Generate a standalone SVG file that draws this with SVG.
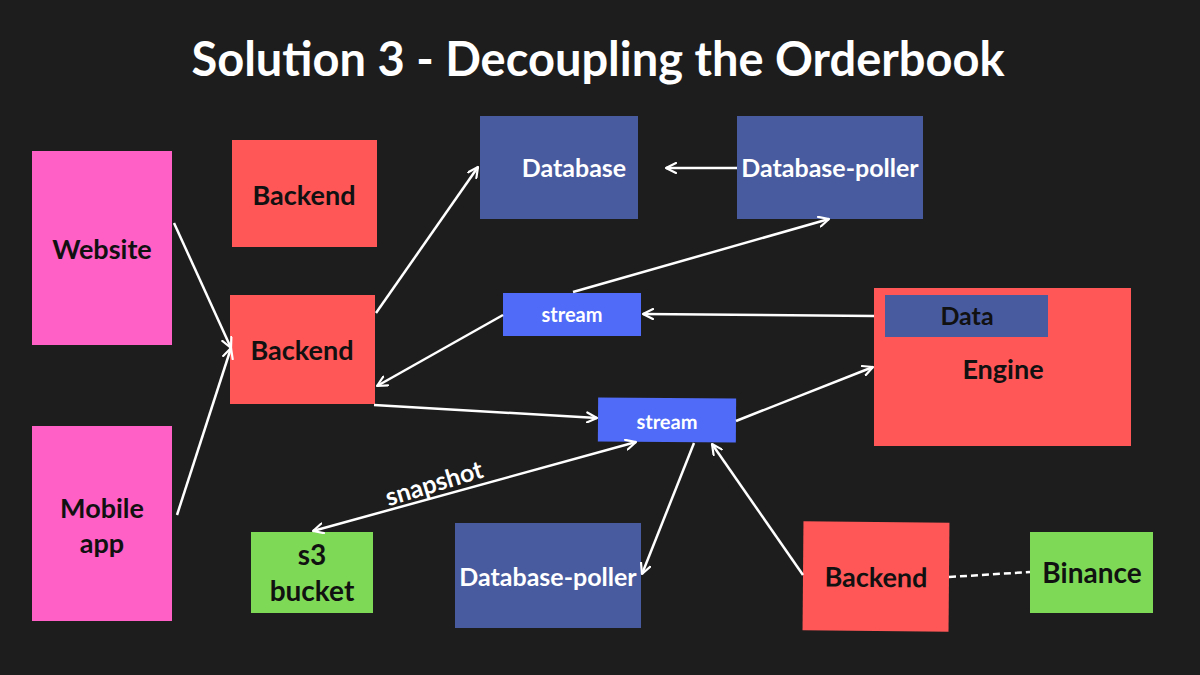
<svg xmlns="http://www.w3.org/2000/svg" width="1200" height="675" viewBox="0 0 1200 675">
<defs>
<style>
text{font-family:Lato,"Open Sans","Liberation Sans",sans-serif;font-weight:700;text-anchor:middle;}
.dk{fill:#111111;font-size:27px;}
.lt{fill:#ffffff;font-size:25px;}
.sm{fill:#ffffff;font-size:20px;}
.pink{fill:#ff60c5;}
.red{fill:#ff5757;}
.navy{fill:#485b9e;}
.blue{fill:#4f6bf8;}
.green{fill:#7ed957;}
.conn{stroke:#ffffff;stroke-width:2.5;fill:none;}
.dash{stroke:#ffffff;stroke-width:2.5;fill:none;stroke-dasharray:7 4;}
</style>
<marker id="ah" viewBox="0 0 12 12" refX="11" refY="6" markerWidth="12" markerHeight="12" markerUnits="userSpaceOnUse" orient="auto-start-reverse">
<path d="M1,1 L11,6 L1,11" fill="none" stroke="#ffffff" stroke-width="2.2" stroke-linecap="round" stroke-linejoin="round"/>
</marker>
</defs>
<rect width="1200" height="675" fill="#1d1d1d"/>
<text x="598" y="76" fill="#ffffff" style="font-size:47px">Solution 3 - Decoupling the Orderbook</text>

<g id="website"><rect class="pink" x="32" y="151" width="140" height="194"/><text class="dk" x="102" y="259">Website</text></g>
<g id="mobile-app"><rect class="pink" x="32" y="426" width="140" height="195"/><text class="dk" x="102" y="518">Mobile</text><text class="dk" x="102" y="553">app</text></g>
<g id="backend-top"><rect class="red" x="232" y="140" width="145" height="107"/><text class="dk" x="304" y="205">Backend</text></g>
<g id="backend-main"><rect class="red" x="230" y="295" width="145" height="109"/><text class="dk" x="302" y="360">Backend</text></g>
<g id="database"><rect class="navy" x="480" y="116" width="158" height="103"/><text class="lt" x="574" y="177">Database</text></g>
<g id="database-poller-top"><rect class="navy" x="737" y="116" width="186" height="103"/><text class="lt" x="830" y="177">Database-poller</text></g>
<g id="stream-1"><rect class="blue" x="503" y="293" width="138" height="43"/><text class="sm" x="572" y="322">stream</text></g>
<g id="stream-2" transform="rotate(0.4 667 420)"><rect class="blue" x="598" y="398" width="138" height="44"/><text class="sm" x="667" y="429">stream</text></g>
<g id="engine"><rect class="red" x="874" y="288" width="257" height="158"/><rect class="navy" x="885" y="295" width="163" height="42"/><text class="dk" x="967" y="325" style="font-size:25px">Data</text><text class="dk" x="1003" y="379">Engine</text></g>
<g id="s3-bucket"><rect class="green" x="251" y="532" width="122" height="81"/><text class="dk" x="312" y="565" style="font-size:28px">s3</text><text class="dk" x="312" y="601" style="font-size:28px">bucket</text></g>
<g id="database-poller-bottom"><rect class="navy" x="455" y="523" width="186" height="105"/><text class="lt" x="548" y="586">Database-poller</text></g>
<g id="backend-bottom" transform="rotate(0.5 876 576)"><rect class="red" x="803" y="522" width="146" height="109"/><text class="dk" x="876" y="587">Backend</text></g>
<g id="binance"><rect class="green" x="1030" y="532" width="123" height="81"/><text class="dk" x="1092" y="583" style="font-size:28px">Binance</text></g>

<g id="connectors">
<line class="conn" x1="174" y1="223" x2="231" y2="348" marker-end="url(#ah)"/>
<line class="conn" x1="177" y1="515" x2="231" y2="348" marker-end="url(#ah)"/>
<line class="conn" x1="376" y1="313" x2="478" y2="167" marker-end="url(#ah)"/>
<line class="conn" x1="737" y1="168" x2="666" y2="168" marker-end="url(#ah)"/>
<line class="conn" x1="573" y1="292" x2="829" y2="219" marker-end="url(#ah)"/>
<line class="conn" x1="874" y1="316" x2="643" y2="314" marker-end="url(#ah)"/>
<line class="conn" x1="503" y1="315" x2="377" y2="386" marker-end="url(#ah)"/>
<line class="conn" x1="374" y1="405" x2="597" y2="418" marker-end="url(#ah)"/>
<line class="conn" x1="736" y1="421" x2="873" y2="367" marker-end="url(#ah)"/>
<line class="conn" x1="313" y1="531" x2="636" y2="442" marker-start="url(#ah)" marker-end="url(#ah)"/>
<line class="conn" x1="694" y1="443" x2="642" y2="574" marker-end="url(#ah)"/>
<line class="conn" x1="803" y1="575" x2="712" y2="444" marker-end="url(#ah)"/>
<line class="dash" x1="949" y1="577" x2="1030" y2="572"/>
<text x="434" y="492" fill="#ffffff" style="font-size:25px" transform="rotate(-17 434 483)">snapshot</text>
</g>
</svg>
